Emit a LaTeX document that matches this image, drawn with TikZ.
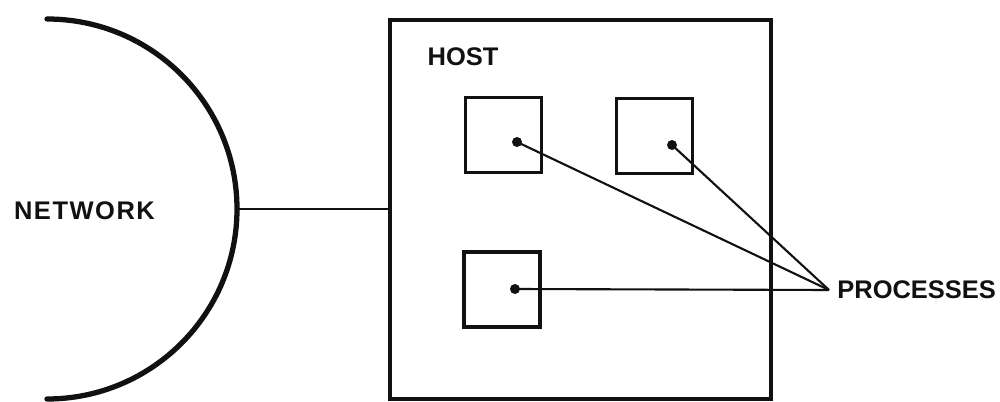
\documentclass[tikz,border=0pt]{standalone}
\usepackage{fontspec}
\setmainfont{Liberation Sans}
\usetikzlibrary{positioning,calc}
\usepackage{xcolor}
\definecolor{ink}{HTML}{111111}
\tikzset{
  label/.style={font=\bfseries\fontsize{14.5}{17}\selectfont, text=ink, inner sep=0pt},
  hostbox/.style={draw=ink, line width=1.9pt, minimum width=7.62cm, minimum height=7.58cm, inner sep=0pt},
  procbox/.style={draw=ink, line width=1.9pt, minimum width=1.52cm, minimum height=1.5cm, inner sep=0pt},
  dot/.style={circle, fill=ink, inner sep=0pt, minimum size=2mm},
  netarc/.style={draw=ink, line width=3pt, line cap=round},
  link/.style={draw=ink, line width=1.5pt},
  wire/.style={draw=ink, line width=1.2pt}
}

\begin{document}
\begin{tikzpicture}
  \useasboundingbox (0,0) rectangle (20,8.02);
  % network edge
  \draw[netarc] (0.94,7.64) arc[start angle=90, end angle=-90, radius=3.8];
  \coordinate (netedge) at (4.74,3.84);
  \node[label, font=\bfseries\fontsize{14.5}{17}\addfontfeatures{LetterSpace=6}] (network) at (1.69,3.8) {NETWORK};
  % host with its processes
  \node[hostbox] (host) at (11.61,3.83) {};
  \node[label] (hostlbl) at (9.26,6.88) {HOST};
  \node[procbox] (p1) at (10.07,5.32) {};
  \node[procbox] (p2) at (13.09,5.30) {};
  \node[procbox] (p3) at (10.04,2.23) {};
  \node[dot] (d1) at (10.34,5.18) {};
  \node[dot] (d2) at (13.44,5.12) {};
  \node[dot] (d3) at (10.30,2.24) {};
  \draw[link] (netedge) -- (netedge -| host.west);
  % label for the processes
  \coordinate (meet) at (16.58,2.22);
  \node[label, anchor=west, xshift=1.6mm] (procs) at (meet) {PROCESSES};
  \draw[wire] (d1.center) -- (meet);
  \draw[wire] (d2.center) -- (meet);
  \draw[wire] (d3.center) -- (meet);
\end{tikzpicture}
\end{document}
